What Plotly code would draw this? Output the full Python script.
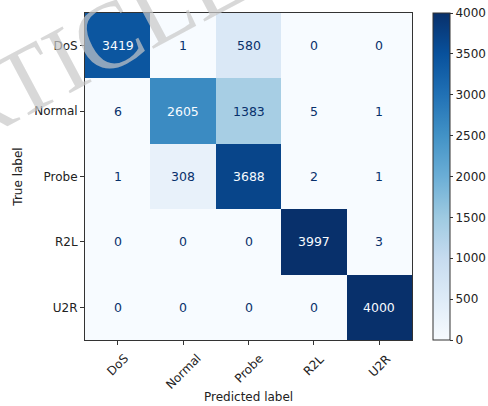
import plotly.graph_objects as go

# Confusion matrix of the intrusion classifier (rows: true class, cols: predicted class)
classes = ["DoS", "Normal", "Probe", "R2L", "U2R"]
counts = [
    [3419, 1, 580, 0, 0],
    [6, 2605, 1383, 5, 1],
    [1, 308, 3688, 2, 1],
    [0, 0, 0, 3997, 3],
    [0, 0, 0, 0, 4000],
]
cbar_ticks = [0, 500, 1000, 1500, 2000, 2500, 3000, 3500, 4000]

W, H = 488, 406
L, R, T, B = 85, 412, 13, 340  # plot area in pixels

DARK = "rgb(8,48,107)"
LIGHT = "rgb(247,251,255)"
FONT = "DejaVu Sans"
TXT = "#222222"

fig = go.Figure(
    go.Heatmap(
        z=counts,
        x=classes,
        y=classes,
        colorscale="Blues",
        zmin=0,
        zmax=4000,
        hoverinfo="skip",
        colorbar=dict(
            xref="container",
            x=433 / W,
            xanchor="left",
            xpad=0,
            ypad=0,
            thickness=17,
            len=1,
            lenmode="fraction",
            y=0.5,
            yanchor="middle",
            outlinewidth=1,
            outlinecolor="#333333",
            tickvals=cbar_ticks,
            ticks="outside",
            ticklen=3,
            tickcolor="#333333",
            tickfont=dict(family=FONT, size=12, color=TXT),
        ),
    )
)

def px_to_paper(px, py):
    return (px - L) / (R - L), (B - py) / (B - T)

# Cell counts: light text on dark cells, dark text on light cells
threshold = 2000
annotations = []
for i, row in enumerate(counts):
    for j, v in enumerate(row):
        annotations.append(
            dict(
                x=classes[j],
                y=classes[i],
                xref="x",
                yref="y",
                text=str(v),
                showarrow=False,
                font=dict(family=FONT, size=12.5, color=LIGHT if v > threshold else DARK),
            )
        )

# Rotated predicted-class labels, centred under their ticks
for c in classes:
    annotations.append(
        dict(
            x=c,
            y=-9 / (B - T),
            xref="x",
            yref="paper",
            text=c,
            showarrow=False,
            textangle=-45,
            xanchor="center",
            yanchor="top",
            font=dict(family=FONT, size=12, color=TXT),
        )
    )

# x-axis title
tx, ty = px_to_paper((L + R) / 2, 397)
annotations.append(
    dict(
        x=tx,
        y=ty,
        xref="paper",
        yref="paper",
        text="Predicted label",
        showarrow=False,
        xanchor="center",
        yanchor="middle",
        font=dict(family=FONT, size=12, color=TXT),
    )
)

# "ARTICLE IN PRESS" stamp across the upper-left corner
wx, wy = px_to_paper(252, -40)
annotations.append(
    dict(
        x=wx,
        y=wy,
        xref="paper",
        yref="paper",
        text="ARTICLE IN PRESS",
        showarrow=False,
        textangle=-28,
        xanchor="center",
        yanchor="middle",
        font=dict(family="Liberation Serif", size=95, color="rgba(200,200,200,0.7)"),
    )
)

axis_common = dict(
    showline=True,
    linecolor="#333333",
    linewidth=1,
    mirror=True,
    ticks="outside",
    ticklen=4,
    tickcolor="#333333",
    showgrid=False,
    zeroline=False,
    tickfont=dict(family=FONT, size=12, color=TXT),
)

fig.update_layout(
    width=W,
    height=H,
    margin=dict(l=L, r=W - R, t=T, b=H - B, pad=0, autoexpand=False),
    paper_bgcolor="white",
    plot_bgcolor="white",
    annotations=annotations,
    xaxis=dict(**axis_common, showticklabels=False, automargin=False),
    yaxis=dict(
        **axis_common,
        autorange="reversed",
        automargin=False,
        title=dict(text="True label", font=dict(family=FONT, size=12, color=TXT), standoff=8),
    ),
)

fig.write_html("out.html")
